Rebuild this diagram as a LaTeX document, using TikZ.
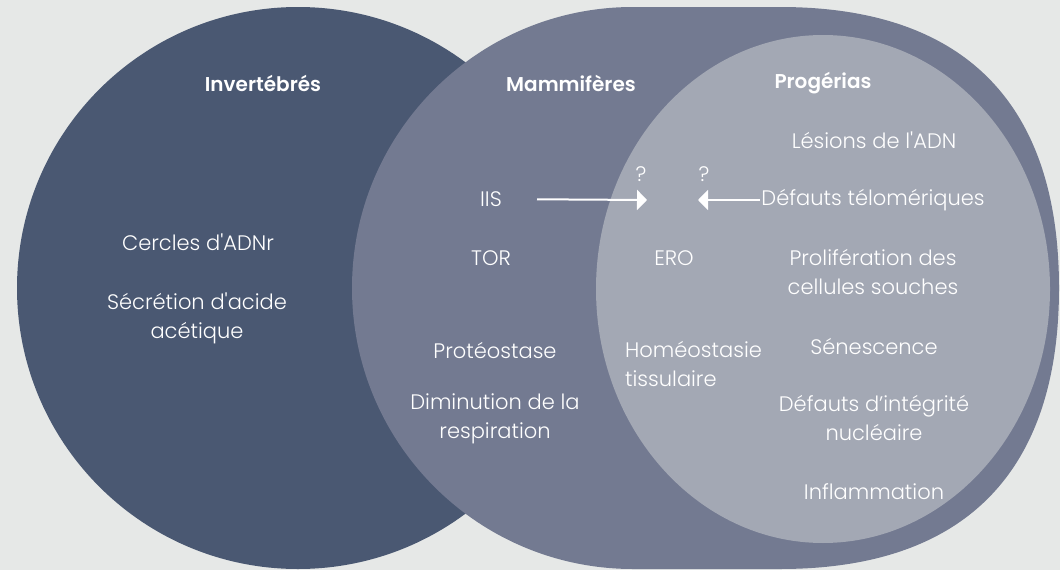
\documentclass[tikz,border=0pt]{standalone}
\usepackage{fontspec}
\usetikzlibrary{arrows.meta}
\IfFontExistsTF{Poppins Light}{\newfontfamily\bodyfont{Poppins Light}}{\newfontfamily\bodyfont{Poppins}}
\IfFontExistsTF{Poppins SemiBold}{\newfontfamily\titlefont{Poppins SemiBold}}{\newfontfamily\titlefont{Poppins}[UprightFont=*Bold]}
\definecolor{bg}{HTML}{E6E8E7}
\definecolor{inv}{HTML}{4A5872}
\definecolor{mam}{HTML}{737A91}
\definecolor{pro}{HTML}{A3A8B4}
\tikzset{
  lbl/.style={text=white, align=center, inner sep=1pt, font=\bodyfont\fontsize{21}{29}\selectfont},
  ttl/.style={text=white, inner sep=1pt, font=\titlefont\fontsize{20}{29}\selectfont},
  arr/.style={draw=white, line width=2pt, -{Triangle[length=10pt,width=20pt]}}
}
\begin{document}
\begin{tikzpicture}[x=1pt,y=-1pt]
\fill[bg] (0,0) rectangle (1060,570);
\useasboundingbox (0,0) rectangle (1060,570);
% Invertebres circle
\fill[inv] (298,288) circle[radius=281pt];
% Mammiferes shape
\fill[mam] (633,7) .. controls (477.8,7) and (352,132.8) .. (352,288)
  .. controls (352,443.2) and (477.8,569) .. (633,569) -- (780,569)
  .. controls (964,569) and (1059,473) .. (1059,288)
  .. controls (1059,103) and (964,7) .. (780,7) -- cycle;
% Progerias ellipse
\fill[pro] (823,289) ellipse[x radius=227pt, y radius=254pt];
% titles
\node[ttl] (tinv) at (263,83) {Invertébrés};
\node[ttl] (tmam) at (571,83) {Mammifères};
\node[ttl] (tpro) at (823,83) {Progérias};
% invertebres
\node[lbl] (cercles) at (198,242) {Cercles d'ADNr};
\node[lbl] (secretion) at (197,318) {Sécrétion d'acide\\acétique};
% mammiferes
\node[lbl] (iis) at (491,199) {IIS};
\node[lbl] (tor) at (491,258) {TOR};
\node[lbl] (proteo) at (495,350) {Protéostase};
\node[lbl] (dimin) at (495,419) {Diminution de la\\respiration};
% shared
\node[lbl] (q1) at (641,174) {?};
\node[lbl] (q2) at (704,174) {?};
\coordinate (tip1) at (647,200);
\coordinate (tip2) at (698,200);
\node[lbl] (ero) at (674,258) {ERO};
\node[lbl, align=left, anchor=west] (homeo) at (624,364) {Homéostasie\\tissulaire};
% progerias
\node[lbl] (lesions) at (874,140) {Lésions de l'ADN};
\node[lbl] (deftel) at (873,200) {Défauts télomériques};
\node[lbl] (prolif) at (873,272) {Prolifération des\\cellules souches};
\node[lbl] (senes) at (874,346) {Sénescence};
\node[lbl] (defint) at (874,418) {Défauts d’intégrité\\nucléaire};
\node[lbl] (inflam) at (874,492) {Inflammation};
% arrows
\draw[arr, shorten <=46pt] (iis.center) -- (tip1);
\draw[arr] (deftel.west) -- (tip2);
\end{tikzpicture}
\end{document}
